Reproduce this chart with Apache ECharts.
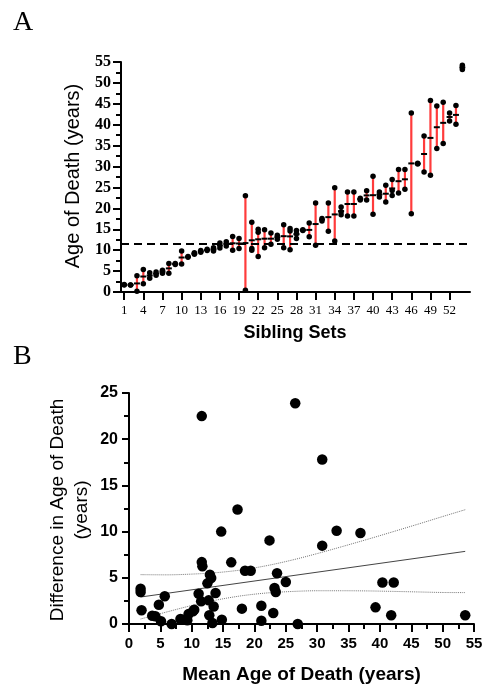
<!DOCTYPE html>
<html><head><meta charset="utf-8">
<script src="https://cdn.jsdelivr.net/npm/echarts@6/dist/echarts.min.js"></script>
<style>html,body{margin:0;padding:0;background:#fff}#c{width:486px;height:686px}</style>
</head><body><div id="c"></div>
<script>
// ---- Panel A: ages of death within each sibling set ----
const youngerAge = [1.7,1.7,0.2,2.0,3.3,4.0,4.5,4.5,6.6,6.7,8.3,9.0,9.5,9.9,9.8,10.5,11.0,10.0,10.4,0.4,
  10.0,8.5,10.6,11.4,12.6,10.6,10.1,12.8,14.7,13.2,11.2,17.0,14.5,12.2,18.5,18.2,18.2,22.0,22.0,18.6,
  22.7,21.5,23.1,23.7,24.6,18.7,30.6,28.7,27.9,34.3,35.5,40.9,40.1,53.2];
const olderAge = [1.8,1.7,3.9,5.4,4.6,4.8,5.2,6.8,6.8,9.8,8.5,9.4,9.9,10.2,10.6,11.7,12.0,13.3,12.8,23.0,
  16.7,15.0,14.9,14.1,13.6,16.1,15.2,14.7,14.9,16.5,21.3,17.6,21.3,24.9,20.3,23.9,23.9,22.4,24.2,27.7,
  23.9,25.5,26.9,29.3,29.3,42.8,30.8,37.3,45.8,44.5,45.4,42.8,44.6,54.2];
const thirdAge = [null,null,null,null,null,null,null,null,null,null,null,null,null,null,null,null,null,null,null,null,
  10.4,14.3,null,null,null,null,14.6,13.9,null,null,null,null,null,null,19.2,null,null,null,null,null,
  null,null,24.3,null,null,null,null,null,null,null,null,null,null,null];
const referenceAge = 11.6;
const setTickLabels = [1,4,7,10,13,16,19,22,25,28,31,34,37,40,43,46,49,52];

// ---- Panel B: mean age vs difference ----
const meanAge = [1.85,1.85,2.0,3.7,4.2,4.76,5.1,5.7,6.8,8.2,8.6,9.3,9.5,10.2,10.4,11.1,11.6,11.6,11.7,11.5,
  12.5,12.7,12.9,13.1,12.8,13.3,13.5,13.8,14.7,14.8,16.3,17.3,18.0,18.5,19.4,21.1,21.1,22.4,23.0,23.2,
  23.4,23.6,25.0,26.5,26.9,30.8,30.8,33.1,36.9,39.3,40.4,41.8,42.2,53.6];
const ageDifference = [3.82,3.46,1.48,0.9,0.83,2.09,0.29,3.0,0.0,0.54,0.47,0.4,1.08,1.37,1.55,3.28,22.5,6.7,6.24,2.45,
  4.4,2.56,5.34,4.98,0.94,0.1,1.9,3.35,10.0,0.47,6.67,12.4,1.66,5.77,5.77,1.98,0.36,9.05,1.19,3.9,
  3.46,5.5,4.55,23.9,0.0,17.8,8.48,10.1,9.85,1.8,4.5,0.94,4.5,0.94];
const fitX = [1.85,53.6];
const fitY = [2.92,7.86];
const bandX = [1.85,6,10,14,18,22,26,30,34,38,42,46,50,53.6];
const bandUpper = [5.34,5.32,5.40,5.56,5.86,6.32,6.92,7.62,8.38,9.16,9.97,10.79,11.63,12.37];
const bandLower = [0.54,1.30,2.00,2.60,3.06,3.36,3.52,3.60,3.60,3.58,3.53,3.47,3.41,3.40];

const SERIF = 'Liberation Serif', SANS = 'Liberation Sans';

const rangeData = [], dotData = [], meanData = [];
youngerAge.forEach((lo, i) => {
  const n = i + 1;
  const vals = [lo, olderAge[i]];
  if (thirdAge[i] != null) vals.push(thirdAge[i]);
  rangeData.push([n, Math.min(...vals), Math.max(...vals)]);
  vals.forEach(v => dotData.push([n, v]));
  meanData.push([n, vals.reduce((a, b) => a + b, 0) / vals.length]);
});

const axisLine = {show: true, lineStyle: {color: '#000', width: 2}};
const chart = echarts.init(document.getElementById('c'), null, {renderer: 'canvas'});
chart.setOption({
  animation: false,
  backgroundColor: '#fff',
  grid: [
    {left: 121, top: 62, right: 16, bottom: 394},
    {left: 129, top: 393, right: 12, bottom: 62}
  ],
  xAxis: [
    {gridIndex: 0, type: 'value', min: 0.5, max: 55.2, axisLine,
     splitLine: {show: false},
     axisTick: {show: true, length: 8, lineStyle: {color: '#000', width: 2}, customValues: setTickLabels},
     axisLabel: {customValues: setTickLabels, fontFamily: SERIF, fontSize: 13, color: '#000', margin: 12}},
    {gridIndex: 1, type: 'value', min: 0, max: 55, interval: 5, axisLine,
     splitLine: {show: false},
     axisTick: {show: true, length: 8, lineStyle: {color: '#000', width: 2}},
     minorTick: {show: true, splitNumber: 2, length: 5, lineStyle: {color: '#000', width: 2}},
     axisLabel: {fontFamily: SANS, fontWeight: 'bold', fontSize: 15, color: '#000', margin: 12}}
  ],
  yAxis: [
    {gridIndex: 0, type: 'value', min: 0, max: 55, interval: 5, axisLine,
     splitLine: {show: false},
     axisTick: {show: true, length: 8, lineStyle: {color: '#000', width: 2}},
     minorTick: {show: true, splitNumber: 2, length: 5, lineStyle: {color: '#000', width: 2}},
     axisLabel: {fontFamily: SERIF, fontWeight: 'bold', fontSize: 16, color: '#000', margin: 10}},
    {gridIndex: 1, type: 'value', min: 0, max: 25, interval: 5, axisLine,
     splitLine: {show: false},
     axisTick: {show: true, length: 7, lineStyle: {color: '#000', width: 2}},
     minorTick: {show: true, splitNumber: 2, length: 5, lineStyle: {color: '#000', width: 2}},
     axisLabel: {fontFamily: SANS, fontWeight: 'bold', fontSize: 16, color: '#000', margin: 11}}
  ],
  series: [
    {type: 'custom', xAxisIndex: 0, yAxisIndex: 0, data: rangeData, z: 2,
     encode: {x: 0, y: [1, 2]},
     renderItem: (params, api) => {
       const p1 = api.coord([api.value(0), api.value(1)]);
       const p2 = api.coord([api.value(0), api.value(2)]);
       return {type: 'line', shape: {x1: p1[0], y1: p1[1], x2: p2[0], y2: p2[1]},
               style: {stroke: '#ff3b3b', lineWidth: 2.2}};
     },
     markLine: {silent: true, symbol: 'none', label: {show: false},
       lineStyle: {color: '#000', width: 2, type: [8, 5]},
       data: [{yAxis: referenceAge}]}},
    {type: 'scatter', xAxisIndex: 0, yAxisIndex: 0, data: dotData, symbolSize: 5.5, z: 3,
     itemStyle: {color: '#000', opacity: 1}},
    {type: 'custom', xAxisIndex: 0, yAxisIndex: 0, data: meanData, z: 4,
     encode: {x: 0, y: 1},
     renderItem: (params, api) => {
       const p = api.coord([api.value(0), api.value(1)]);
       return {type: 'line', shape: {x1: p[0] - 3, y1: p[1], x2: p[0] + 3, y2: p[1]},
               style: {stroke: '#000', lineWidth: 2}};
     }},
    {type: 'line', xAxisIndex: 1, yAxisIndex: 1, showSymbol: false, z: 2,
     data: bandX.map((x, i) => [x, bandUpper[i]]), smooth: 0.3,
     lineStyle: {color: '#777', width: 1, type: 'dotted'}},
    {type: 'line', xAxisIndex: 1, yAxisIndex: 1, showSymbol: false, z: 2,
     data: bandX.map((x, i) => [x, bandLower[i]]), smooth: 0.3,
     lineStyle: {color: '#777', width: 1, type: 'dotted'}},
    {type: 'line', xAxisIndex: 1, yAxisIndex: 1, showSymbol: false, z: 2,
     data: fitX.map((x, i) => [x, fitY[i]]),
     lineStyle: {color: '#444', width: 1}},
    {type: 'scatter', xAxisIndex: 1, yAxisIndex: 1, symbolSize: 10.5, z: 3,
     data: meanAge.map((m, i) => [m, ageDifference[i]]),
     itemStyle: {color: '#000', opacity: 1}}
  ],
  graphic: [
    {type: 'text', x: 13, y: 23, style: {text: 'A', font: '28px "Liberation Serif"', fill: '#000', textVerticalAlign: 'middle'}},
    {type: 'text', x: 13, y: 357, style: {text: 'B', font: '28px "Liberation Serif"', fill: '#000', textVerticalAlign: 'middle'}},
    {type: 'text', x: 73.5, y: 176, rotation: Math.PI / 2,
     style: {text: 'Age of Death (years)', font: '20px "Liberation Sans"', fill: '#000', textAlign: 'center', textVerticalAlign: 'middle'}},
    {type: 'text', x: 295, y: 333,
     style: {text: 'Sibling Sets', font: 'bold 18px "Liberation Sans"', fill: '#000', textAlign: 'center', textVerticalAlign: 'middle'}},
    {type: 'text', x: 70, y: 510, rotation: Math.PI / 2,
     style: {text: 'Difference in Age of Death\n(years)', font: '19px "Liberation Sans"', lineHeight: 24, fill: '#000', textAlign: 'center', textVerticalAlign: 'middle'}},
    {type: 'text', x: 301.5, y: 675,
     style: {text: 'Mean Age of Death (years)', font: 'bold 19px "Liberation Sans"', fill: '#000', textAlign: 'center', textVerticalAlign: 'middle'}}
  ]
});
</script></body></html>
